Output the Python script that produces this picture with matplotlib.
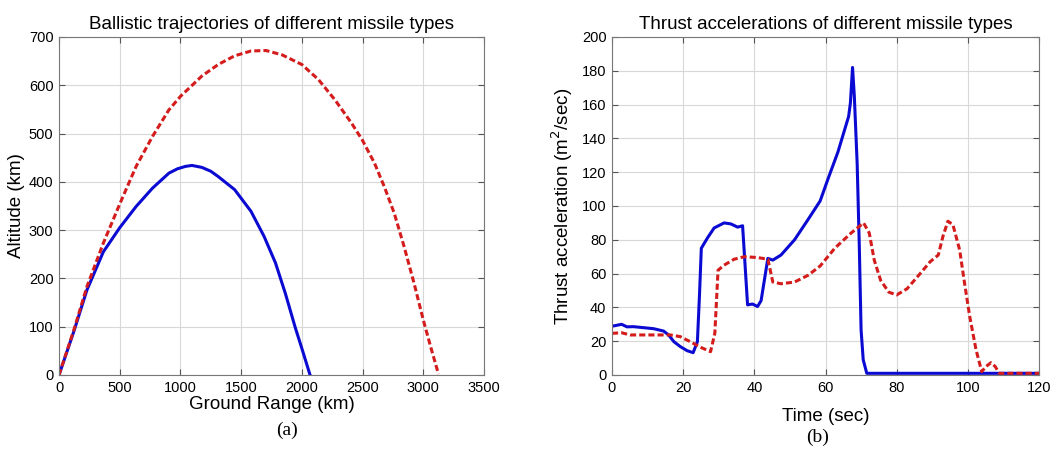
import numpy as np
import matplotlib
matplotlib.use('Agg')
import matplotlib.pyplot as plt

plt.rcParams['font.family'] = ['Liberation Sans', 'DejaVu Sans']

# (a) ballistic trajectories, ground range (km) vs altitude (km)
range_red = [0, 122, 230, 365, 500, 635, 770, 905, 1000, 1176, 1311, 1446, 1581, 1705, 1837, 2000, 2136,
             2272, 2408, 2497, 2598, 2679, 2761, 2842, 2924, 3000, 3060, 3125]
alt_red = [0, 93, 183, 273, 354, 432, 494, 549, 577, 619, 643, 661, 671, 672, 663, 643, 612,
           570, 522, 487, 439, 390, 335, 266, 190, 114, 59, 2]
range_blue = [0, 122, 230, 365, 500, 635, 770, 905, 975, 1041, 1095, 1176, 1250, 1311, 1446, 1581, 1689,
              1783, 1864, 1946, 2000, 2065]
alt_blue = [0, 90, 176, 255, 305, 349, 387, 418, 427, 432, 434, 430, 422, 411, 384, 339, 287,
            232, 169, 98, 55, 2]

# (b) thrust accelerations vs time (sec)
t_blue = [0, 0.4, 2.7, 4.2, 6, 8.9, 11.7, 14.5, 15.9, 17.4, 19.2, 21.1, 22.8, 24, 24.6, 25.1, 26.8, 28.7,
          31.5, 33.4, 35.3, 36.7, 38.1, 39.5, 40.9, 41.9, 43.8, 45.2, 47.5, 51.3, 55.1, 58.5, 60.7, 63.5,
          66.5, 67, 67.6, 68.1, 68.9, 69.5, 70, 70.6, 71.6, 120]
acc_blue = [29, 29, 30, 28.5, 28.6, 28, 27.4, 26, 23.7, 19.7, 16.8, 14.4, 13.2, 19.7, 48, 75, 81, 87,
            90, 89.4, 87.5, 88.3, 41.5, 42, 40.5, 44, 69, 68, 71, 80, 92, 103, 116, 132,
            153, 161, 182, 165, 125, 76, 26.7, 9, 1, 1]
t_red = [0, 0.4, 2.7, 5.1, 10.8, 16.4, 19.2, 22, 24.9, 27.7, 28.9, 29.8, 31.5, 34.3, 37.2, 40.9, 43.8,
         45.2, 47.5, 51.3, 55.1, 58.5, 62.6, 67.2, 70.7, 72.3, 73.7, 75.5, 77.8, 80, 82.9, 86.6, 89.4,
         91.7, 93, 94.4, 95.8, 97.7, 99.1, 100.5, 102.3, 103.9, 105.1, 106.5, 107.7, 108.8, 120]
acc_red = [24.7, 24.7, 25, 23.7, 23.7, 23.7, 22.7, 19.7, 16.4, 13.8, 24.7, 62, 65, 68.5, 70, 69.5, 68.5,
           55, 54, 55, 59, 64.5, 75, 84, 90, 84, 68, 56, 49, 47.4, 51, 60, 67,
           71, 82, 91, 89, 74, 54, 35, 15, 2, 5, 7.3, 5, 1, 1]

blue = '#0a0ad2'
red = '#d41c1c'

fig = plt.figure(figsize=(10.57, 4.55), dpi=100)
ax1 = fig.add_axes([59/1057, 80/455, 425/1057, 338/455])
ax2 = fig.add_axes([612/1057, 80/455, 427/1057, 338/455])

ax1.plot(range_blue, alt_blue, color=blue, lw=2.2)
ax1.plot(range_red, alt_red, color=red, lw=2.2, dashes=(2, 1))
ax1.set_xlim(0, 3500)
ax1.set_ylim(0, 700)
ax1.set_xticks(np.arange(0, 3501, 500))
ax1.set_yticks(np.arange(0, 701, 100))
ax1.set_title('Ballistic trajectories of different missile types', fontsize=13.5, pad=6)
ax1.set_xlabel('Ground Range (km)', fontsize=13.5, labelpad=1)
ax1.set_ylabel('Altitude (km)', fontsize=13.5, labelpad=3)

ax2.plot(t_blue, acc_blue, color=blue, lw=2.2)
ax2.plot(t_red, acc_red, color=red, lw=2.2, dashes=(2, 1))
ax2.set_xlim(0, 120)
ax2.set_ylim(0, 200)
ax2.set_xticks(np.arange(0, 121, 20))
ax2.set_yticks(np.arange(0, 201, 20))
ax2.set_title('Thrust accelerations of different missile types', fontsize=13.5, pad=6)
ax2.set_xlabel('Time (sec)', fontsize=13.5, labelpad=10)
ax2.set_ylabel('Thrust acceleration (m$^2$/sec)', fontsize=13.5, labelpad=5)

for ax in (ax1, ax2):
    ax.grid(True, color='#d8d8d8', lw=0.8)
    ax.tick_params(direction='in', top=True, right=True, labelsize=10.5, length=4,
                   color='#555555', pad=4)
    for s in ax.spines.values():
        s.set_color('#777777')
        s.set_linewidth(0.8)

fig.text(287/1057, 1 - 430/455, '(a)', family='Liberation Serif', fontsize=14, ha='center', va='center')
fig.text(818/1057, 1 - 437/455, '(b)', family='Liberation Serif', fontsize=14, ha='center', va='center')

fig.savefig('out.png', dpi=100)
